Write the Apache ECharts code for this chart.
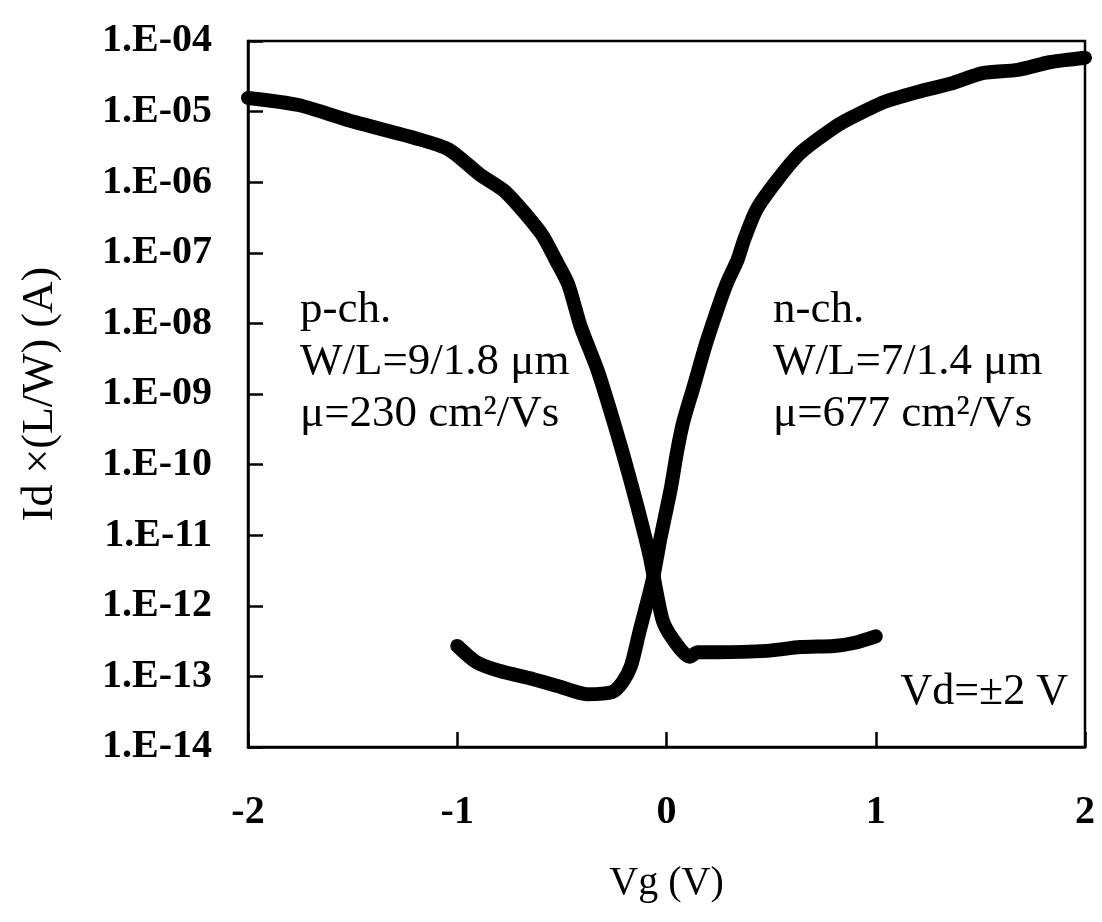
<html>
<head>
    <meta charset="utf-8">
    <title>Id-Vg</title>
    <script src="https://cdn.jsdelivr.net/npm/echarts@6/dist/echarts.min.js"></script>
</head>
<body style="margin:0;background:#fff;">
<div id="main" style="width:1102px;height:922px;"></div>
<script type="text/javascript">
    // p-ch: Vg (V) and Id*(L/W) (A)
    var pchV = [-2.00, -1.76, -1.49, -1.20, -1.04, -0.89, -0.77, -0.60, -0.53, -0.47,
        -0.41, -0.33, -0.27, -0.21, -0.14, -0.08, -0.02, 0.03, 0.11, 0.15,
        0.24, 0.48, 0.64, 0.80, 0.90, 1.00];
    var pchI = [1.56e-5, 1.24e-5, 7.1e-6, 4.2e-6, 2.9e-6, 1.27e-6, 7.3e-7, 1.9e-7, 8.0e-8, 3.6e-8,
        9.0e-9, 2.2e-9, 6.0e-10, 1.5e-10, 2.6e-11, 5.0e-12, 6.5e-13, 3.4e-13, 1.9e-13, 2.2e-13,
        2.2e-13, 2.3e-13, 2.6e-13, 2.7e-13, 3.0e-13, 3.7e-13];
    // n-ch
    var nchV = [-1.00, -0.91, -0.80, -0.64, -0.52, -0.38, -0.26, -0.21, -0.17, -0.13,
        -0.065, -0.03, 0.02, 0.05, 0.08, 0.13, 0.19, 0.26, 0.29, 0.34,
        0.37, 0.43, 0.53, 0.64, 0.80, 0.88, 1.04, 1.20, 1.36, 1.51,
        1.68, 1.83, 2.00];
    var nchI = [2.7e-13, 1.6e-13, 1.2e-13, 9.2e-14, 7.3e-14, 5.6e-14, 6.0e-14, 8.3e-14, 1.4e-13, 4.2e-13,
        2.4e-12, 8.7e-12, 4.5e-11, 1.5e-10, 4.0e-10, 1.28e-9, 5.3e-9, 2.2e-8, 3.8e-8, 8.0e-8,
        1.5e-7, 4.1e-7, 1.08e-6, 2.6e-6, 5.9e-6, 8.1e-6, 1.37e-5, 1.9e-5, 2.5e-5, 3.5e-5,
        3.9e-5, 5.0e-5, 5.8e-5];

    var xTicks = [-2, -1, 0, 1, 2];
    var yMin = 1e-14, yMax = 1e-4;

    function pairs(xs, ys) {
        var out = [];
        for (var i = 0; i < xs.length; i++) out.push([xs[i], ys[i]]);
        return out;
    }
    function expLabel(v) {
        var e = Math.round(Math.log10(v));
        var s = String(Math.abs(e));
        if (s.length < 2) s = '0' + s;
        return '1.E' + (e < 0 ? '-' : '+') + s;
    }

    var serif = '"Liberation Serif", "Times New Roman", serif';
    var myChart = echarts.init(document.getElementById('main'));
    myChart.setOption({
        backgroundColor: '#fff',
        animation: false,
        grid: {
            left: 248, right: 17, top: 41, bottom: 175,
            show: true, borderColor: '#000', borderWidth: 2.5
        },
        xAxis: {
            type: 'value',
            min: xTicks[0], max: xTicks[xTicks.length - 1], interval: 1,
            name: 'Vg (V)',
            nameLocation: 'middle',
            nameGap: 116,
            nameTextStyle: { fontFamily: serif, fontSize: 40, color: '#000' },
            axisLine: { onZero: false, lineStyle: { color: '#000', width: 2.5 } },
            axisTick: { inside: true, length: 15, lineStyle: { color: '#000', width: 2.5 } },
            axisLabel: { margin: 46, fontFamily: serif, fontSize: 40, fontWeight: 'bold', color: '#000' },
            splitLine: { show: false }
        },
        yAxis: {
            type: 'log',
            logBase: 10,
            min: yMin, max: yMax, interval: 1,
            name: 'Id ×(L/W) (A)',
            nameLocation: 'middle',
            nameRotate: 90,
            nameGap: 186,
            nameTextStyle: { fontFamily: serif, fontSize: 44, color: '#000' },
            axisLine: { onZero: false, lineStyle: { color: '#000', width: 2.5 } },
            axisTick: { inside: true, length: 15, lineStyle: { color: '#000', width: 2.5 } },
            minorTick: { show: false },
            axisLabel: { margin: 36, fontFamily: serif, fontSize: 40, fontWeight: 'bold', color: '#000',
                formatter: expLabel },
            splitLine: { show: false }
        },
        series: [{
            name: 'p-ch.',
            type: 'line',
            data: pairs(pchV, pchI),
            showSymbol: false,
            smooth: 0.25,
            clip: false,
            lineStyle: { color: '#000', width: 14, cap: 'round', join: 'round' }
        }, {
            name: 'n-ch.',
            type: 'line',
            data: pairs(nchV, nchI),
            showSymbol: false,
            smooth: 0.25,
            clip: false,
            lineStyle: { color: '#000', width: 14, cap: 'round', join: 'round' }
        }],
        graphic: [{
            type: 'text', left: 300, top: 284,
            style: {
                text: 'p-ch.\nW/L=9/1.8 μm\nμ=230 cm²/Vs',
                font: '45px ' + serif, fill: '#000', lineHeight: 52
            }
        }, {
            type: 'text', left: 773, top: 284,
            style: {
                text: 'n-ch.\nW/L=7/1.4 μm\nμ=677 cm²/Vs',
                font: '45px ' + serif, fill: '#000', lineHeight: 52
            }
        }, {
            type: 'text', right: 34, top: 670,
            style: {
                text: 'Vd=±2 V',
                font: '44px ' + serif, fill: '#000'
            }
        }]
    });
</script>
</body>
</html>
